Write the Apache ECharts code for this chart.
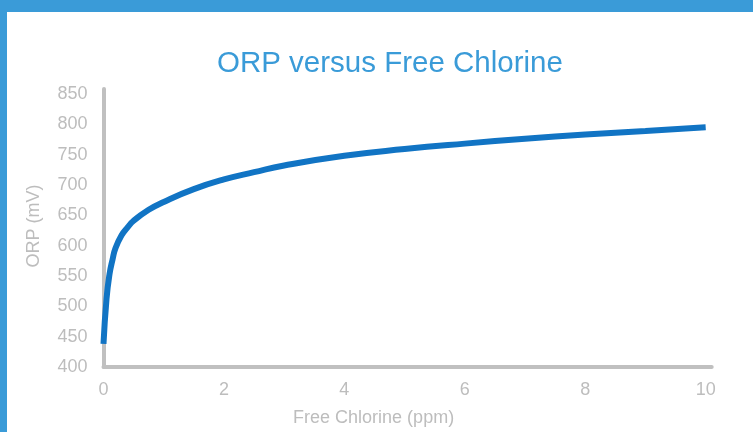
<!DOCTYPE html>
<html>
<head>
<meta charset="utf-8">
<script src="https://cdn.jsdelivr.net/npm/echarts@6/dist/echarts.min.js"></script>
<style>
html,body{margin:0;padding:0;background:#fff;}
#frame{position:absolute;left:0;top:0;width:753px;height:432px;background:#fff;}
#topbar{position:absolute;left:0;top:0;width:753px;height:12px;background:#3a9bd8;}
#leftbar{position:absolute;left:0;top:0;width:7px;height:432px;background:#3a9bd8;}
#chart{position:absolute;left:0;top:0;width:753px;height:432px;}
</style>
</head>
<body>
<div id="frame"></div>
<div id="chart"></div>
<div id="topbar"></div>
<div id="leftbar"></div>
<script>
const chlorine = [0, 0.05, 0.1, 0.15, 0.2, 0.3, 0.4, 0.5, 0.75, 1, 1.5, 2, 2.5, 3, 4, 5, 6, 7, 8, 9, 10];
const orp =      [438, 512, 553, 577, 596, 617, 630, 641, 659, 672, 693, 709, 721, 732, 748, 759, 768, 776, 783, 789, 795];
const xTicks = [0, 2, 4, 6, 8, 10];
const yTicks = [400, 450, 500, 550, 600, 650, 700, 750, 800, 850];

const chart = echarts.init(document.getElementById('chart'), null, {renderer: 'canvas'});
const font = 'Liberation Sans, Arial, sans-serif';
const gray = '#c0c0c0';
const labelGray = '#bdbdbd';
chart.setOption({
  animation: false,
  title: {
    text: 'ORP versus Free Chlorine',
    left: 217, top: 49, padding: 0,
    textStyle: {color: '#3a9bd8', fontSize: 29.5, fontWeight: 'normal', fontFamily: font}
  },
  grid: {left: 103.5, right: 41.3, top: 89, bottom: 65, containLabel: false},
  xAxis: {
    type: 'value', min: 0, max: 10.1, interval: 2,
    name: 'Free Chlorine (ppm)', nameLocation: 'middle', nameGap: 42,
    nameTextStyle: {color: labelGray, fontSize: 18, fontFamily: font, padding: [0, 68, 0, 0]},
    axisLine: {show: true, onZero: false, lineStyle: {color: gray, width: 4}},
    axisTick: {show: false}, splitLine: {show: false},
    axisLabel: {color: labelGray, fontSize: 18, fontFamily: font, margin: 14, showMaxLabel: false,
      formatter: v => xTicks.includes(v) ? String(v) : ''}
  },
  yAxis: {
    type: 'value', min: 400, max: 858, interval: 50,
    name: 'ORP (mV)', nameLocation: 'middle', nameGap: 60,
    nameTextStyle: {color: labelGray, fontSize: 18, fontFamily: font, padding: [0, 0, 0, 4]},
    axisLine: {show: true, lineStyle: {color: gray, width: 4}},
    axisTick: {show: false}, splitLine: {show: false},
    axisLabel: {color: labelGray, fontSize: 18, fontFamily: font, margin: 16, showMaxLabel: false,
      formatter: v => yTicks.includes(v) ? String(v) : ''}
  },
  series: [{
    type: 'line', smooth: 0.5, symbol: 'none',
    data: chlorine.map((c, i) => [c, orp[i]]),
    lineStyle: {color: '#1174c4', width: 6, cap: 'butt'}
  }]
});
</script>
</body>
</html>
